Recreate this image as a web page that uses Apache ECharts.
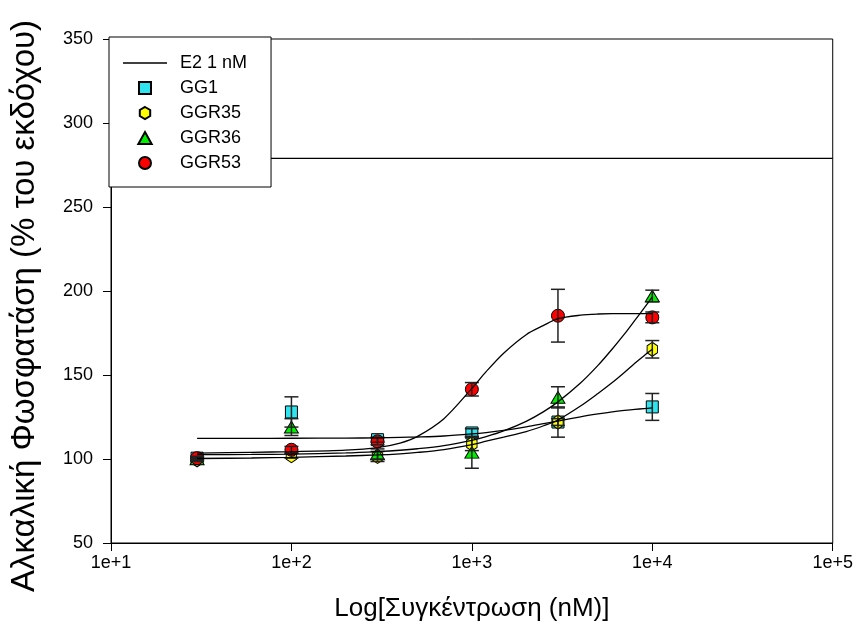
<!DOCTYPE html>
<html>
<head>
<meta charset="utf-8">
<script src="https://cdn.jsdelivr.net/npm/echarts@6/dist/echarts.min.js"></script>
<style>html,body{margin:0;padding:0;background:#fff}#c{width:856px;height:637px}</style>
</head>
<body>
<div id="c"></div>
<script>
// Measured concentrations (nM)
const conc = [30, 100, 300, 1000, 3000, 10000];
// Mean values (% of vehicle) and error (+/-)
const gg1 = [100.5, 128, 111.5, 115.5, 122, 131];
const gg1Err = [1, 9, 1.5, 2.5, 2, 8];
const ggr35 = [99.5, 102, 101.5, 109, 122, 165.3];
const ggr35Err = [1, 1.5, 3, 4, 9, 5.2];
const ggr36 = [100, 119, 103, 104, 136.7, 197];
const ggr36Err = [1, 5, 3, 9.5, 6.3, 3.5];
const ggr53 = [100.5, 105.5, 110.5, 141.5, 185.3, 184.3];
const ggr53Err = [1, 2, 2, 4, 15.7, 3.2];
// E2 1 nM reference level
const e2X = [10, 100000];
const e2Level = [279, 279];
// Fitted curves
const fitX = [30, 60, 100, 200, 300, 400, 500, 700, 1000, 1200, 1500, 2000, 2500, 3000, 4000, 5000, 6000, 7000, 8000, 9000, 10000];
const fitGG1 = [112.3, 112.3, 112.35, 112.46, 112.6, 112.85, 113.1, 113.7, 114.9, 115.7, 117.0, 119.1, 121.0, 122.6, 125.1, 126.8, 128.05, 128.9, 129.5, 130.0, 130.4];
const fitGGR35 = [100.3, 100.6, 101, 101.8, 102.4, 103.1, 103.9, 105.6, 108.5, 110.6, 113, 116.3, 119.8, 123.2, 131.5, 139, 145.5, 151.5, 157, 161.5, 165.3];
const fitGGR36 = [102.6, 102.7, 102.95, 103.6, 104.4, 105.2, 106.1, 108, 111.1, 113.3, 116.7, 122.4, 128.2, 134, 145.2, 155.7, 165.5, 174.3, 182.5, 189.8, 196.5];
const fitGGR53 = [103.5, 104, 104.4, 105.3, 106.8, 109.5, 113.5, 124, 142, 152, 163, 174, 179.5, 183.5, 185.6, 186.3, 186.5, 186.5, 186.5, 186.5, 186.5];
// Axis ticks
const yTicks = [50, 100, 150, 200, 250, 300, 350];
const xTickLabels = ['1e+1', '1e+2', '1e+3', '1e+4', '1e+5'];

const FONT = "'Liberation Sans', Arial, sans-serif";
const hexPath = 'path://M0,-1 L0.866,-0.5 L0.866,0.5 L0,1 L-0.866,0.5 L-0.866,-0.5 Z';
const sqPath = 'path://M0,0 L1,0 L1,1 L0,1 Z';
const triPath = 'path://M0.5,0 L1,0.9 L0,0.9 Z';
const linePath = 'path://M0,0 L44,0 L44,1.3 L0,1.3 Z';

function pts(xs, ys) { return xs.map((x, i) => [x, ys[i]]); }
function errPts(xs, ys, es) { return xs.map((x, i) => [x, ys[i] - es[i], ys[i] + es[i]]); }

function errSeries(name, xs, ys, es) {
  return {
    name: name + ' err', type: 'custom', z: 4,
    data: errPts(xs, ys, es),
    renderItem: function (params, api) {
      const lo = api.coord([api.value(0), api.value(1)]);
      const hi = api.coord([api.value(0), api.value(2)]);
      const w = 7;
      const st = { stroke: '#222', lineWidth: 1.5 };
      return { type: 'group', children: [
        { type: 'line', shape: { x1: lo[0], y1: lo[1], x2: hi[0], y2: hi[1] }, style: st },
        { type: 'line', shape: { x1: lo[0] - w, y1: lo[1], x2: lo[0] + w, y2: lo[1] }, style: st },
        { type: 'line', shape: { x1: hi[0] - w, y1: hi[1], x2: hi[0] + w, y2: hi[1] }, style: st }
      ]};
    }
  };
}
function fitSeries(name, ys) {
  return { name: name + ' fit', type: 'line', data: pts(fitX, ys), smooth: 0.3, symbol: 'none', z: 5,
    lineStyle: { color: '#000', width: 1.3 }, silent: true };
}
function scat(name, ys, symbol, size, color) {
  return { name: name, type: 'scatter', data: pts(conc, ys), symbol: symbol, symbolSize: size,
    symbolKeepAspect: true, z: 3,
    itemStyle: { color: color, borderColor: '#000', borderWidth: 1, opacity: 1 } };
}

const chart = echarts.init(document.getElementById('c'));
chart.setOption({
  animation: false,
  backgroundColor: '#fff',
  grid: { left: 111, right: 22, top: 39, bottom: 94, show: true, borderColor: '#000', borderWidth: 1 },
  xAxis: {
    type: 'log', logBase: 10, min: 10, max: 100000, splitNumber: 4,
    name: 'Log[Συγκέντρωση (nM)]', nameLocation: 'middle', nameGap: 53,
    nameTextStyle: { fontFamily: FONT, fontSize: 26, color: '#000' },
    axisLine: { lineStyle: { color: '#000', width: 1 } },
    axisTick: { show: true, length: 8, lineStyle: { color: '#000' } },
    axisLabel: { fontFamily: FONT, fontSize: 18, color: '#000', margin: 11,
      formatter: function (v) { const i = Math.round(Math.log10(v)) - 1; return xTickLabels[i] || ''; } },
    splitLine: { show: false }, minorTick: { show: false }
  },
  yAxis: {
    type: 'value', min: yTicks[0], max: yTicks[yTicks.length - 1], interval: 50,
    name: 'Αλκαλική Φωσφατάση (% του εκδόχου)', nameLocation: 'middle', nameGap: 70,
    nameTextStyle: { fontFamily: FONT, fontSize: 33, color: '#000', padding: [0, 30, 0, 0] },
    axisLine: { show: true, lineStyle: { color: '#000', width: 1 } },
    axisTick: { show: true, length: 8, lineStyle: { color: '#000' } },
    axisLabel: { fontFamily: FONT, fontSize: 18, color: '#000', margin: 18 },
    splitLine: { show: false }
  },
  legend: {
    orient: 'vertical', left: 109, top: 37,
    padding: [17, 24, 15, 14],
    borderColor: '#000', borderWidth: 1, backgroundColor: '#fff',
    itemWidth: 44, itemHeight: 12, itemGap: 7,
    symbolKeepAspect: true,
    textStyle: { fontFamily: FONT, fontSize: 18, color: '#000', lineHeight: 18, padding: [0, 0, 0, 8] },
    data: [
      { name: 'E2 1 nM', icon: linePath, itemStyle: { color: '#000', borderWidth: 0 } },
      { name: 'GG1', icon: sqPath },
      { name: 'GGR35', icon: hexPath },
      { name: 'GGR36', icon: triPath },
      { name: 'GGR53', icon: 'circle' }
    ]
  },
  series: [
    { name: 'E2 1 nM', type: 'line', data: pts(e2X, e2Level), symbol: 'none', showSymbol: false, z: 2,
      lineStyle: { color: '#000', width: 1.3 }, itemStyle: { color: '#000' } },
    scat('GG1', gg1, 'rect', 12, '#2fe4ee'),
    scat('GGR35', ggr35, hexPath, [12, 14], '#ffff00'),
    scat('GGR36', ggr36, triPath, [14, 13], '#00ee00'),
    scat('GGR53', ggr53, 'circle', 13, '#ff0000'),
    errSeries('GG1', conc, gg1, gg1Err),
    errSeries('GGR35', conc, ggr35, ggr35Err),
    errSeries('GGR36', conc, ggr36, ggr36Err),
    errSeries('GGR53', conc, ggr53, ggr53Err),
    fitSeries('GG1', fitGG1),
    fitSeries('GGR35', fitGGR35),
    fitSeries('GGR36', fitGGR36),
    fitSeries('GGR53', fitGGR53)
  ]
});
</script>
</body>
</html>
